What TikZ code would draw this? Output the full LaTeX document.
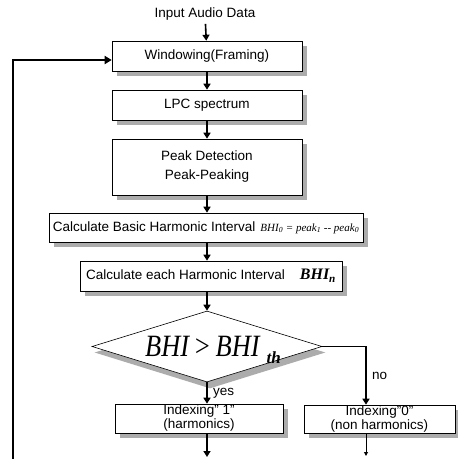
\documentclass[tikz,border=0pt]{standalone}
\usepackage{fontspec}
\usepackage{graphicx}
\setmainfont{Liberation Sans}
\newfontfamily\tnr{Liberation Serif}
\usetikzlibrary{shapes.geometric,arrows.meta,backgrounds}

\begin{document}
\begin{tikzpicture}[x=1pt,y=-1pt,
    txt/.style={font=\fontsize{13.5}{16}\selectfont},
    box/.style={txt, draw, fill=white, line width=0.6pt, align=center, inner sep=0pt},
    decision/.style={diamond, draw, fill=white, line width=0.6pt, inner sep=0pt},
    shadowfill/.style={fill=gray!65},
    flow/.style={line width=1.6pt, -{Triangle[length=6pt,width=7pt]}}]
    \useasboundingbox (0,0) rectangle (458,459);

    % main chain
    \node[txt](input)at(205,14){Input Audio Data};
    \node[box, minimum width=190pt, minimum height=30pt](win)at(207,56){Windowing(Framing)};
    \node[box, minimum width=190pt, minimum height=30pt](lpc)at(207,105){LPC spectrum};
    \node[box, minimum width=190pt, minimum height=56pt](peak)at(207,167){Peak Detection\\[3pt]Peak-Peaking};
    \node[box, minimum width=314pt, minimum height=29pt](basic)at(206,227.5){Calculate Basic Harmonic Interval\hspace{5pt}{\tnr\itshape\fontsize{11}{11}\selectfont BHI\textsubscript{0} = peak\textsubscript{1} -- peak\textsubscript{0}}};
    \node[box, minimum width=262pt, minimum height=30pt](each)at(211,276){Calculate each Harmonic Interval\hspace{15pt}{\tnr\bfseries\itshape\fontsize{16}{16}\selectfont BHI\textsubscript{n}}};

    % threshold test
    \node[decision, minimum width=230pt, minimum height=71pt](cond)at(207,346.5){};
    \node[anchor=base west, inner sep=0pt, font=\tnr\itshape](condtext)at(145,356)
        {\scalebox{0.85}[1]{\fontsize{31}{31}\selectfont BHI\,>\,BHI}\hspace{7pt}\raisebox{-7pt}{\fontsize{17}{17}\selectfont\bfseries th}};

    \node[box, minimum width=168pt, minimum height=29pt](idx1)at(199,418.5){Indexing" 1"\\[-2pt](harmonics)};
    \node[box, minimum width=151pt, minimum height=28pt](idx0)at(379.5,419){Indexing"0"\\[-2pt](non harmonics)};

    % shadows behind the boxes
    \begin{scope}[on background layer]
        \foreach \n in {win,lpc,peak,basic,each,idx1,idx0}
            \fill[shadowfill]([shift={(5pt,-5pt)}]\n.south west)rectangle([shift={(5pt,-5pt)}]\n.north east);
        \fill[shadowfill]([shift={(3pt,-6pt)}]cond.north)--([shift={(3pt,-6pt)}]cond.east)
            --([shift={(3pt,-6pt)}]cond.south)--([shift={(3pt,-6pt)}]cond.west)--cycle;
    \end{scope}

    \coordinate(nodrop)at([xshift=-13.5pt]idx0.north);
    \coordinate(loop)at(13,459);
    \coordinate(out1)at(207,457);
    \coordinate(out0)at(366,456);

    \draw[flow](input)--(win);
    \draw[flow](win)--(lpc);
    \draw[flow](lpc)--(peak);
    \draw[flow](peak.south)--(basic.north -| peak);
    \draw[flow](basic.south -| peak)--(each.north -| peak);
    \draw[flow](each.south -| peak)--(cond.north);
    \draw[flow](cond.south)--(cond.south |- idx1.north)node[txt, midway, right, xshift=2pt]{yes};
    \draw[flow](cond.east)-|(nodrop)node[txt, pos=0.75, right, xshift=2pt]{no};
    \draw[flow](idx1.south -| peak)--(out1);
    \draw[line width=1pt, -{Triangle[length=4pt,width=4pt]}](nodrop |- idx0.south)--(out0);

    % back to framing
    \draw[line width=2.6pt, -{Triangle[length=7pt,width=8pt]}](loop)|-([yshift=-4pt]win.west);
\end{tikzpicture}
\end{document}
